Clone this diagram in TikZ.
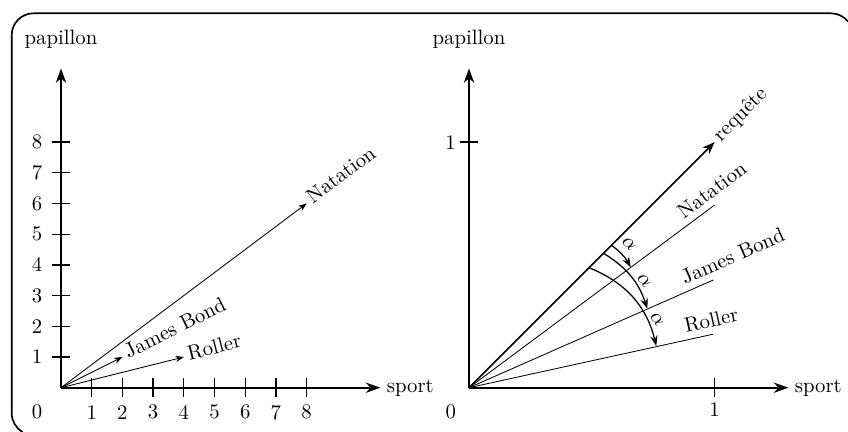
\documentclass[tikz,border=0pt]{standalone}
\usetikzlibrary{arrows.meta}
\begin{document}
\begin{tikzpicture}[x=0.52cm,y=0.52cm,
  axis/.style={thick,-{Stealth[length=7pt,width=5pt]}},
  vec/.style={-{Stealth[length=4pt,width=3pt]}},
  reqarrow/.style={thick,-{Stealth[length=6pt,width=4.5pt]}},
  arcarrow/.style={semithick,-{Stealth[length=5pt,width=3.6pt]}},
  tickmark/.style={semithick},
  veclabel/.style={inner sep=2pt,anchor=mid west},
  linelabel/.style={inner sep=3pt,anchor=south west,sloped,pos=0.87},
  alphalabel/.style={inner sep=0pt},
]
\useasboundingbox (-1.987,-1.443) rectangle (25.635,12.629);
% frame: only the parts inside the picture are drawn
\draw[thick] (25.635,11.9268) arc[start angle=38.5,end angle=90,radius=0.7115]
  -- (-0.8945,12.195) arc[start angle=90,end angle=180,radius=0.7115]
  -- (-1.606,-0.8285) arc[start angle=180,end angle=239.7,radius=0.7115];

% ---------- left diagram ----------
\coordinate (O1) at (0,0);
\coordinate (X1) at (10.4,0);
\coordinate (Y1) at (0,10.4);
\draw[axis] (O1) -- (X1);
\draw[axis] (O1) -- (Y1);
\node[right,inner sep=3pt] (sport1) at (X1) {sport};
\node (pap1) at (0,11.36) {papillon};
\foreach \i in {1,...,8} {
  \draw[tickmark] (\i,-0.3) -- (\i,0.3);
  \draw[tickmark] (-0.3,\i) -- (0.3,\i);
  \node (xl\i) at (\i,-0.8) {\i};
  \node (yl\i) at (-0.78,\i) {\i};
}
\node (zero1) at (-0.78,-0.8) {0};
\coordinate (N1) at (8,6);
\coordinate (J1) at (2,1);
\coordinate (R1) at (4,1);
\draw[vec] (O1) -- (N1);
\draw[vec] (O1) -- (J1);
\draw[vec] (O1) -- (R1);
\node[veclabel,rotate=36.87] (nl1) at (N1) {Natation};
\node[veclabel,rotate=26.57] (jl1) at (J1) {James Bond};
\node[veclabel,rotate=14.04] (rl1) at (R1) {Roller};

% ---------- right diagram ----------
\begin{scope}[shift={(13.29,0)}]
\coordinate (O2) at (0,0);
\coordinate (X2) at (10.4,0);
\coordinate (Y2) at (0,10.4);
\draw[axis] (O2) -- (X2);
\draw[axis] (O2) -- (Y2);
\node[right,inner sep=3pt] (sport2) at (X2) {sport};
\node (pap2) at (0,11.36) {papillon};
\draw[tickmark] (8,-0.3) -- (8,0.3);
\draw[tickmark] (-0.3,8) -- (0.3,8);
\node (xone) at (8,-0.72) {1};
\node (yone) at (-0.6,8) {1};
\node (zero2) at (-0.59,-0.8) {0};
\coordinate (Q2) at (8,8);
\coordinate (N2) at (8,5.95);
\coordinate (J2) at (7.96,3.51);
\coordinate (R2) at (7.94,1.74);
\draw[reqarrow] (O2) -- (Q2);
\node[veclabel,rotate=45] (ql2) at (Q2) {requête};
\draw (O2) -- (N2) node[linelabel] (nl2) {Natation};
\draw (O2) -- (J2) node[linelabel] (jl2) {James Bond};
\draw (O2) -- (R2) node[linelabel] (rl2) {Roller};
% arcs
\coordinate (a1s) at (4.64,4.64);
\coordinate (a1e) at (5.27,3.92);
\coordinate (a2s) at (4.38,4.38);
\coordinate (a2e) at (5.81,2.57);
\coordinate (a3s) at (3.91,3.91);
\coordinate (a3e) at (6.10,1.36);
\draw[arcarrow] (a1s) to[bend left=12] (a1e);
\draw[arcarrow] (a2s) to[bend left=20] (a2e);
\draw[arcarrow] (a3s) to[bend left=27] (a3e);
\node[alphalabel,rotate=-45] (al1) at (5.21,4.67) {$\alpha$};
\node[alphalabel,rotate=-50] (al2) at (5.70,3.48) {$\alpha$};
\node[alphalabel,rotate=-55] (al3) at (6.13,2.23) {$\alpha$};
\end{scope}
\end{tikzpicture}
\end{document}
